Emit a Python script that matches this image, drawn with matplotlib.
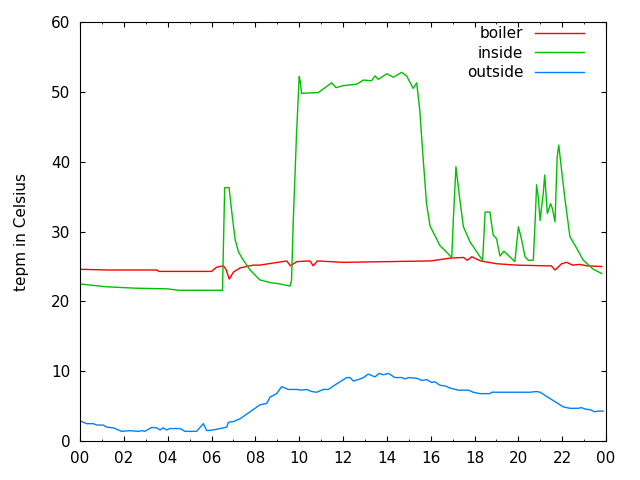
import matplotlib
matplotlib.use("Agg")
import matplotlib.pyplot as plt

# hours since midnight, temperatures in Celsius
boiler_h = [0, 1.3, 3.5, 3.6, 6.0, 6.23, 6.54, 6.66, 6.81, 7.0, 7.3, 7.9, 8.2, 9.43, 9.6,
            9.89, 10.49, 10.64, 10.83, 12.0, 14.0, 16.0, 16.88, 17.49, 17.67, 17.87, 18.28,
            19.0, 19.92, 21.29, 21.5, 21.67, 21.97, 22.2, 22.47, 22.8, 23.13, 23.8]
boiler_t = [24.6, 24.5, 24.5, 24.3, 24.3, 24.9, 25.1, 24.6, 23.2, 24.2, 24.8, 25.2, 25.2, 25.8, 25.1,
            25.7, 25.8, 25.1, 25.8, 25.6, 25.7, 25.8, 26.2, 26.3, 25.9, 26.4, 25.8,
            25.4, 25.2, 25.1, 25.1, 24.5, 25.4, 25.6, 25.2, 25.3, 25.1, 25.0]

inside_h = [0, 1.2, 2.5, 4.0, 4.5, 6.5, 6.6, 6.8, 6.95, 7.08, 7.23, 7.45, 7.76, 8.2, 8.67, 9.13,
            9.58, 9.65, 9.73, 9.88, 10.0, 10.05, 10.11, 10.87, 11.48, 11.68, 12.0, 12.62, 12.93,
            13.3, 13.46, 13.6, 14.0, 14.3, 14.67, 14.9, 15.2, 15.36, 15.5, 15.66, 15.81, 15.97,
            16.42, 16.96, 17.03, 17.15, 17.21, 17.34, 17.49, 17.8, 18.25, 18.37, 18.48, 18.7,
            18.85, 19.0, 19.16, 19.34, 19.84, 20.0, 20.15, 20.3, 20.45, 20.68, 20.76, 20.83,
            20.91, 20.99, 21.14, 21.2, 21.32, 21.47, 21.55, 21.67, 21.77, 21.84, 21.97, 22.13,
            22.35, 22.66, 22.96, 23.42, 23.8]
inside_t = [22.5, 22.1, 21.9, 21.8, 21.6, 21.6, 36.3, 36.3, 32.1, 28.8, 27.1, 25.9, 24.5, 23.1, 22.7, 22.5,
            22.2, 23.0, 31.6, 44.1, 52.2, 51.5, 49.8, 49.9, 51.3, 50.6, 50.9, 51.1, 51.7,
            51.6, 52.3, 51.8, 52.6, 52.1, 52.8, 52.3, 50.5, 51.3, 47.4, 40.2, 34.0, 30.8,
            28.0, 26.3, 31.6, 39.3, 37.7, 34.3, 30.7, 28.5, 26.4, 25.9, 32.8, 32.8,
            29.5, 29.0, 26.5, 27.2, 25.7, 30.7, 28.8, 26.4, 25.9, 25.9, 31.2, 36.7,
            34.8, 31.6, 35.7, 38.1, 32.6, 34.0, 33.3, 31.4, 40.7, 42.4, 38.8, 34.5,
            29.3, 27.6, 25.9, 24.6, 24.0]

outside_h = [0, 0.3, 0.61, 0.76, 1.06, 1.22, 1.52, 1.9, 2.28, 2.66, 2.81, 2.96, 3.27, 3.5, 3.65,
             3.8, 3.95, 4.1, 4.56, 4.79, 5.32, 5.63, 5.78, 6.08, 6.39, 6.69, 6.77, 7.0, 7.3, 7.76,
             8.21, 8.52, 8.67, 8.97, 9.2, 9.5, 9.88, 10.11, 10.34, 10.57, 10.8, 11.1, 11.33, 11.71,
             12.17, 12.32, 12.47, 12.78, 12.93, 13.15, 13.46, 13.65, 13.84, 14.07, 14.37, 14.68,
             14.83, 14.98, 15.36, 15.59, 15.82, 16.04, 16.19, 16.42, 16.65, 16.88, 17.26, 17.72,
             17.94, 18.24, 18.7, 18.78, 20.53, 20.83, 20.99, 21.44, 21.75, 22.05, 22.35, 22.73,
             22.88, 23.03, 23.27, 23.49, 23.64, 23.87]
outside_t = [2.9, 2.5, 2.5, 2.3, 2.3, 2.0, 1.9, 1.4, 1.5, 1.4, 1.5, 1.4, 1.96, 1.9, 1.6,
             1.9, 1.6, 1.8, 1.8, 1.4, 1.4, 2.5, 1.5, 1.6, 1.8, 2.0, 2.7, 2.8, 3.2, 4.2,
             5.2, 5.4, 6.3, 6.8, 7.8, 7.4, 7.4, 7.3, 7.4, 7.1, 7.0, 7.4, 7.4, 8.2,
             9.1, 9.1, 8.6, 8.9, 9.1, 9.6, 9.2, 9.7, 9.5, 9.7, 9.1, 9.1,
             8.9, 9.1, 9.0, 8.7, 8.8, 8.4, 8.5, 8.0, 7.9, 7.6, 7.3, 7.3,
             7.0, 6.8, 6.8, 7.0, 7.0, 7.1, 7.0, 6.1, 5.5, 4.9, 4.7, 4.7,
             4.8, 4.6, 4.5, 4.2, 4.3, 4.3]

tick_hours = list(range(0, 25, 2))
tick_labels = ["00", "02", "04", "06", "08", "10", "12", "14", "16", "18", "20", "22", "00"]


def main():
    fig = plt.figure(figsize=(6.4, 4.8), dpi=100)
    ax = fig.add_axes([0.125, 0.081, 0.822, 0.873])

    ax.plot(boiler_h, boiler_t, color="#ff0000", lw=1.0, label="boiler")
    ax.plot(inside_h, inside_t, color="#00c000", lw=1.0, label="inside")
    ax.plot(outside_h, outside_t, color="#0080ff", lw=1.0, label="outside")

    ax.set_xlim(0, 24)
    ax.set_ylim(0, 60)
    ax.set_xticks(tick_hours)
    ax.set_xticklabels(tick_labels)
    ax.set_xticks(range(0, 25), minor=True)
    ax.set_yticks(range(0, 61, 10))
    ax.tick_params(which="both", direction="in", top=True, right=True, labelsize=11)
    ax.tick_params(which="major", length=3.3, pad=7)
    ax.tick_params(which="minor", length=1.6)
    ax.set_ylabel("tepm in Celsius", fontsize=11, labelpad=16)

    ax.legend(loc="upper right", frameon=False, markerfirst=False, fontsize=11,
              handlelength=3.2, labelspacing=0.3, borderaxespad=0.3,
              bbox_to_anchor=(0.979, 1.016))

    fig.savefig("out.png")


if __name__ == "__main__":
    main()
